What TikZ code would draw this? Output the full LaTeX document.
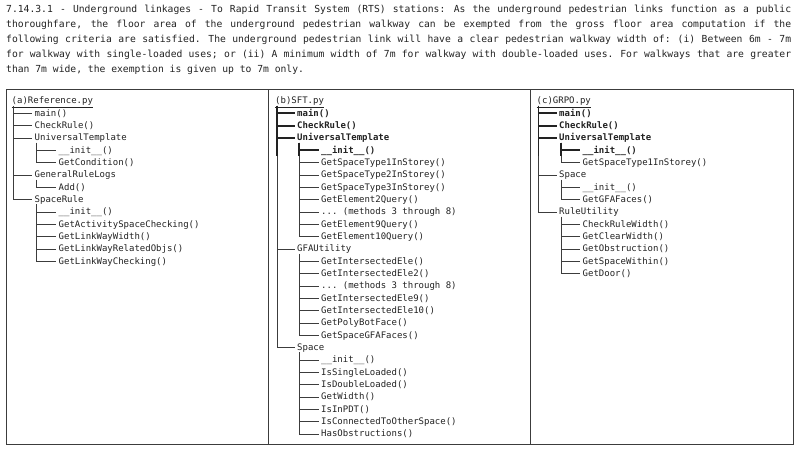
\documentclass[tikz,border=0pt]{standalone}
\usepackage{fontspec}
\setmonofont{DejaVu Sans Mono}
\usetikzlibrary{positioning}
\definecolor{ink}{RGB}{34,34,34}
\definecolor{frame}{RGB}{60,60,60}
\definecolor{twigcol}{RGB}{60,60,60}

\tikzset{
  colbox/.style={draw=frame, line width=1.4pt, minimum width=262pt, minimum height=355pt, anchor=north west, inner sep=0pt},
  entry/.style={anchor=west, inner sep=0pt, text height=7.2pt, text depth=1.4pt, text=ink, font=\ttfamily\fontsize{9}{11}\selectfont},
  hot/.style={entry, font=\ttfamily\bfseries\fontsize{9}{11}\selectfont},
  twig/.style={draw=twigcol, line width=0.75pt},
  boldtwig/.style={draw=ink, line width=1.8pt},
}
% tree connectors: trunk coordinate -> child node
\newcommand{\branchto}[3][twig]{\draw[#1] (#2 |- #3.west) -- ([xshift=-2.5pt]#3.west);}
\newcommand{\lastto}[3][twig]{\draw[#1] (#2) |- ([xshift=-2.5pt]#3.west);}

\begin{document}
\begin{tikzpicture}[x=1pt,y=-1pt]
\useasboundingbox (0,0) rectangle (800,451);

% rule text
\node[anchor=north west, inner sep=0pt, text width=785pt, align=justify, text=ink,
  font=\ttfamily\fontsize{9.7}{15}\selectfont] (rule) at (6,5)
  {\fontdimen3\font=4pt\relax\fontdimen4\font=1pt\relax
   7.14.3.1 - Underground linkages - To Rapid Transit System (RTS) stations: As the underground pedestrian links function as a public\linebreak
   thoroughfare, the floor area of the underground pedestrian walkway can be exempted from the gross floor area computation if the\linebreak
   following criteria are satisfied. The underground pedestrian link will have a clear pedestrian walkway width of: (i) Between 6m - 7m\linebreak
   for walkway with single-loaded uses; or (ii) A minimum width of 7m for walkway with double-loaded uses. For walkways that are greater\linebreak
   than 7m wide, the exemption is given up to 7m only.};

% the three columns
\node[colbox] (colA) at (6,89) {};
\node[colbox] (colB) at (268,89) {};
\node[colbox, minimum width=263pt] (colC) at (530,89) {};

% (a) Reference.py
\node[entry] (a0) at (11.5,101.0) {\underline{(a)Reference.py}};
\node[entry] (a1) at (34.5,113.3) {main()};
\node[entry] (a2) at (34.5,125.7) {CheckRule()};
\node[entry] (a3) at (34.5,138.0) {UniversalTemplate};
\node[entry] (a4) at (58.5,150.3) {\_\_init\_\_()};
\node[entry] (a5) at (58.5,162.7) {GetCondition()};
\node[entry] (a6) at (34.5,175.0) {GeneralRuleLogs};
\node[entry] (a7) at (58.5,187.3) {Add()};
\node[entry] (a8) at (34.5,199.6) {SpaceRule};
\node[entry] (a9) at (58.5,212.0) {\_\_init\_\_()};
\node[entry] (a10) at (58.5,224.3) {GetActivitySpaceChecking()};
\node[entry] (a11) at (58.5,236.6) {GetLinkWayWidth()};
\node[entry] (a12) at (58.5,249.0) {GetLinkWayRelatedObjs()};
\node[entry] (a13) at (58.5,261.3) {GetLinkWayChecking()};

\coordinate (aT) at ([xshift=2pt]a0.south west);
\coordinate (aT3) at ([xshift=2pt]a3.south west);
\coordinate (aT6) at ([xshift=2pt]a6.south west);
\coordinate (aT8) at ([xshift=2pt]a8.south west);
\branchto{aT}{a1}
\branchto{aT}{a2}
\branchto{aT}{a3}
\branchto{aT}{a6}
\lastto{aT}{a8}
\branchto{aT3}{a4}
\lastto{aT3}{a5}
\lastto{aT6}{a7}
\branchto{aT8}{a9}
\branchto{aT8}{a10}
\branchto{aT8}{a11}
\branchto{aT8}{a12}
\lastto{aT8}{a13}

% (b) SFT.py
\node[entry] (b0) at (275,101.0) {\underline{(b)SFT.py}};
\node[hot] (b1) at (297,113.3) {main()};
\node[hot] (b2) at (297,125.7) {CheckRule()};
\node[hot] (b3) at (297,138.0) {UniversalTemplate};
\node[hot] (b4) at (321,150.3) {\_\_init\_\_()};
\node[entry] (b5) at (321,162.7) {GetSpaceType1InStorey()};
\node[entry] (b6) at (321,175.0) {GetSpaceType2InStorey()};
\node[entry] (b7) at (321,187.3) {GetSpaceType3InStorey()};
\node[entry] (b8) at (321,199.6) {GetElement2Query()};
\node[entry] (b9) at (321,212.0) {... (methods 3 through 8)};
\node[entry] (b10) at (321,224.3) {GetElement9Query()};
\node[entry] (b11) at (321,236.6) {GetElement10Query()};
\node[entry] (b12) at (297,249.0) {GFAUtility};
\node[entry] (b13) at (321,261.3) {GetIntersectedEle()};
\node[entry] (b14) at (321,273.6) {GetIntersectedEle2()};
\node[entry] (b15) at (321,286.0) {... (methods 3 through 8)};
\node[entry] (b16) at (321,298.3) {GetIntersectedEle9()};
\node[entry] (b17) at (321,310.6) {GetIntersectedEle10()};
\node[entry] (b18) at (321,322.9) {GetPolyBotFace()};
\node[entry] (b19) at (321,335.3) {GetSpaceGFAFaces()};
\node[entry] (b20) at (297,347.6) {Space};
\node[entry] (b21) at (321,359.9) {\_\_init\_\_()};
\node[entry] (b22) at (321,372.3) {IsSingleLoaded()};
\node[entry] (b23) at (321,384.6) {IsDoubleLoaded()};
\node[entry] (b24) at (321,396.9) {GetWidth()};
\node[entry] (b25) at (321,409.3) {IsInPDT()};
\node[entry] (b26) at (321,421.6) {IsConnectedToOtherSpace()};
\node[entry] (b27) at (321,433.9) {HasObstructions()};

\coordinate (bT) at ([xshift=2pt]b0.south west);
\coordinate (bT3) at ([xshift=2pt]b3.south west);
\coordinate (bT12) at ([xshift=2pt]b12.south west);
\coordinate (bT20) at ([xshift=2pt]b20.south west);
\coordinate (bK) at ([yshift=-6pt]b4.west);
\branchto{bT}{b12}
\lastto{bT}{b20}
\lastto{bT3}{b11}
\foreach \k in {5,...,10} {\branchto{bT3}{b\k}}
\foreach \k in {13,...,18} {\branchto{bT12}{b\k}}
\lastto{bT12}{b19}
\foreach \k in {21,...,26} {\branchto{bT20}{b\k}}
\lastto{bT20}{b27}
\draw[boldtwig] (bT) -- (bT |- bK);
\draw[boldtwig] (bT3) -- (bT3 |- bK);
\branchto[boldtwig]{bT}{b1}
\branchto[boldtwig]{bT}{b2}
\branchto[boldtwig]{bT}{b3}
\branchto[boldtwig]{bT3}{b4}

% (c) GRPO.py
\node[entry] (c0) at (536.5,101.0) {\underline{(c)GRPO.py}};
\node[hot] (c1) at (559,113.3) {main()};
\node[hot] (c2) at (559,125.7) {CheckRule()};
\node[hot] (c3) at (559,138.0) {UniversalTemplate};
\node[hot] (c4) at (582.5,150.3) {\_\_init\_\_()};
\node[entry] (c5) at (582.5,162.7) {GetSpaceType1InStorey()};
\node[entry] (c6) at (559,175.0) {Space};
\node[entry] (c7) at (582.5,187.3) {\_\_init\_\_()};
\node[entry] (c8) at (582.5,199.6) {GetGFAFaces()};
\node[entry] (c9) at (559,212.0) {RuleUtility};
\node[entry] (c10) at (582.5,224.3) {CheckRuleWidth()};
\node[entry] (c11) at (582.5,236.6) {GetClearWidth()};
\node[entry] (c12) at (582.5,249.0) {GetObstruction()};
\node[entry] (c13) at (582.5,261.3) {GetSpaceWithin()};
\node[entry] (c14) at (582.5,273.6) {GetDoor()};

\coordinate (cT) at ([xshift=2pt]c0.south west);
\coordinate (cT3) at ([xshift=2pt]c3.south west);
\coordinate (cT6) at ([xshift=2pt]c6.south west);
\coordinate (cT9) at ([xshift=2pt]c9.south west);
\coordinate (cK) at ([yshift=-6pt]c4.west);
\branchto{cT}{c6}
\lastto{cT}{c9}
\lastto{cT3}{c5}
\branchto{cT6}{c7}
\lastto{cT6}{c8}
\foreach \k in {10,...,13} {\branchto{cT9}{c\k}}
\lastto{cT9}{c14}
\draw[boldtwig] (cT) -- (cT |- cK);
\draw[boldtwig] (cT3) -- (cT3 |- cK);
\branchto[boldtwig]{cT}{c1}
\branchto[boldtwig]{cT}{c2}
\branchto[boldtwig]{cT}{c3}
\branchto[boldtwig]{cT3}{c4}
\end{tikzpicture}
\end{document}
